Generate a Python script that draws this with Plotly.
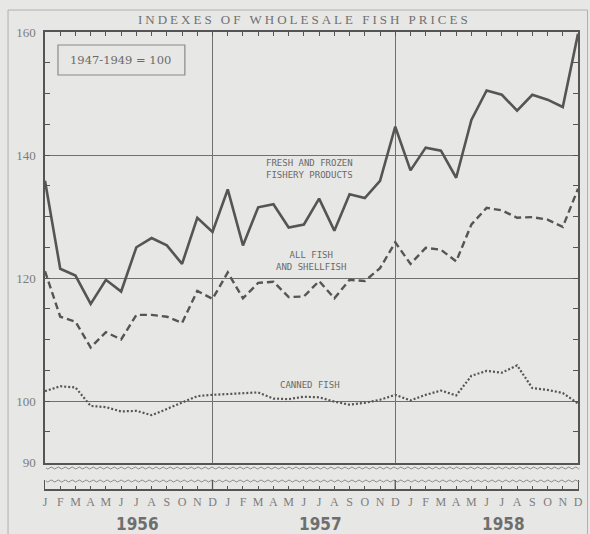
import plotly.graph_objects as go

# ---------------- data ----------------
month_letters = ["J", "F", "M", "A", "M", "J", "J", "A", "S", "O", "N", "D"]
years = ["1956", "1957", "1958"]
month_index = list(range(36))
month_labels = month_letters * 3

fresh_frozen = [135.8, 121.5, 120.4, 115.8, 119.7, 117.8, 125.0, 126.5, 125.3, 122.3, 129.8, 127.5,
                134.4, 125.3, 131.5, 132.0, 128.2, 128.7, 132.9, 127.7, 133.6, 133.0, 135.8, 144.6,
                137.5, 141.2, 140.7, 136.3, 145.7, 150.5, 149.8, 147.2, 149.8, 149.0, 147.8, 159.7]
all_fish = [121.1, 113.7, 112.9, 108.7, 111.2, 110.0, 114.0, 114.0, 113.7, 112.7, 117.9, 116.6,
            120.9, 116.7, 119.2, 119.4, 116.9, 117.0, 119.5, 116.7, 119.7, 119.5, 121.6, 125.8,
            122.3, 124.9, 124.6, 122.7, 128.7, 131.4, 131.0, 129.8, 129.9, 129.5, 128.3, 134.5]
canned_fish = [101.6, 102.4, 102.2, 99.2, 99.0, 98.3, 98.4, 97.7, 98.7, 99.7, 100.8, 101.0,
               101.1, 101.2, 101.4, 100.4, 100.3, 100.7, 100.6, 99.9, 99.4, 99.7, 100.2, 101.0,
               100.1, 101.0, 101.7, 100.9, 104.1, 104.9, 104.6, 105.8, 102.1, 101.8, 101.3, 99.6]

y_tick_vals = [90, 100, 120, 140, 160]
y_tick_text = ["90", "100", "120", "140", "160"]
year_end_months = [11, 23]

# ---------------- style ----------------
BG = "#e7e7e5"
LINE = "#555555"
GRID = "#707070"
TEXT = "#7d7d7d"
SERIF = "Liberation Serif, DejaVu Serif, serif"
MONO = "DejaVu Sans Mono, Liberation Mono, monospace"
NARROW = "Liberation Sans Narrow, DejaVu Sans Condensed, sans-serif"

W, H = 590, 534
ML, MR, MT, MB = 45, 11.5, 32, 45
plot_h = H - MT - MB
plot_w = W - ML - MR
main_bottom_px = 462.5
main_dom0 = (H - MB - main_bottom_px) / plot_h
br_top_px = 480
br_dom1 = (H - MB - br_top_px) / plot_h


def px_x(p):
    return (p - ML) / plot_w


def px_y(p):
    return (H - MB - p) / plot_h


fig = go.Figure()
fig.add_trace(go.Scatter(x=month_index, y=fresh_frozen, mode="lines",
                         line=dict(color=LINE, width=2.6), hoverinfo="skip", showlegend=False))
fig.add_trace(go.Scatter(x=month_index, y=all_fish, mode="lines",
                         line=dict(color=LINE, width=2.4, dash="7px,4px"), hoverinfo="skip", showlegend=False))
fig.add_trace(go.Scatter(x=month_index, y=canned_fish, mode="lines",
                         line=dict(color=LINE, width=2.2, dash="2px,2px"), hoverinfo="skip", showlegend=False))
# bracket axis subplot (no data)
fig.add_trace(go.Scatter(x=[], y=[], xaxis="x2", yaxis="y2", showlegend=False, hoverinfo="skip"))

shapes = []


def wavy(py, x0=46, x1=580, wl=7.0, amp=2.0):
    d = f"M{px_x(x0):.5f},{px_y(py):.5f}"
    x = x0
    s = 1
    while x < x1 - 0.01:
        xe = min(x + wl / 2, x1)
        cx = (x + xe) / 2
        d += f" Q{px_x(cx):.5f},{px_y(py + s * amp):.5f} {px_x(xe):.5f},{px_y(py):.5f}"
        x = xe
        s = -s
    return d


for py in (468, 481):
    shapes.append(dict(type="path", xref="paper", yref="paper", path=wavy(py),
                       line=dict(color="#8a8a8a", width=1)))

for m in year_end_months:
    shapes.append(dict(type="line", xref="x2", yref="y2", x0=m, x1=m, y0=0, y1=1,
                       line=dict(color=LINE, width=1.3)))

shapes.append(dict(type="rect", xref="paper", yref="paper",
                   x0=px_x(58), x1=px_x(185), y0=px_y(75), y1=px_y(45),
                   line=dict(color="#8a8a8a", width=1.2)))
shapes.append(dict(type="rect", xref="paper", yref="paper",
                   x0=px_x(8), x1=px_x(588), y0=px_y(560), y1=px_y(10),
                   line=dict(color="#b0b0b0", width=1)))

annotations = [
    dict(text='<span style="letter-spacing:3px">INDEXES OF WHOLESALE FISH PRICES</span>',
         xref="paper", yref="paper", x=px_x(305), y=px_y(20), xanchor="center", yanchor="middle",
         showarrow=False, font=dict(family=SERIF, size=13, color="#707070")),
    dict(text="1947-1949 = 100",
         xref="paper", yref="paper", x=px_x(121), y=px_y(60), xanchor="center", yanchor="middle",
         showarrow=False, font=dict(family="DejaVu Serif, serif", size=11.5, color="#6a6a6a")),
    dict(text="FRESH AND FROZEN<br>FISHERY PRODUCTS", x=17.4, y=137.7, xref="x", yref="y",
         xanchor="center", yanchor="middle",
         showarrow=False, font=dict(family=MONO, size=9, color="#6a6a6a")),
    dict(text="ALL FISH<br>AND SHELLFISH", x=17.45, y=122.7, xref="x", yref="y",
         xanchor="center", yanchor="middle",
         showarrow=False, font=dict(family=MONO, size=9, color="#6a6a6a")),
    dict(text="CANNED FISH", x=17.4, y=102.6, xref="x", yref="y",
         xanchor="center", yanchor="middle",
         showarrow=False, font=dict(family=MONO, size=9, color="#6a6a6a")),
]
for i, yr in enumerate(years):
    annotations.append(dict(text=f"<b>{yr}</b>", x=i * 12 + 5.5 + 0.6, y=px_y(524),
                            xref="x", yref="paper", xanchor="center", yanchor="middle",
                            showarrow=False,
                            font=dict(family=NARROW, size=17, color="#6e6e6e")))

fig.update_layout(
    width=W, height=H,
    margin=dict(l=ML, r=MR, t=MT, b=MB, pad=0, autoexpand=False),
    paper_bgcolor=BG, plot_bgcolor=BG,
    showlegend=False,
    xaxis=dict(domain=[0, 1], range=[0, 35], anchor="y", side="top", automargin=False,
               showline=True, linecolor=LINE, linewidth=1.5, mirror=True,
               tickmode="array", tickvals=year_end_months, showticklabels=False,
               ticks="inside", ticklen=4, tickcolor=LINE, tickwidth=1,
               showgrid=True, gridcolor=GRID, gridwidth=1, zeroline=False,
               minor=dict(tickmode="linear", tick0=0, dtick=1, ticks="inside", ticklen=4,
                          tickcolor=LINE, tickwidth=1, showgrid=False)),
    yaxis=dict(domain=[main_dom0, 1], range=[90, 160], anchor="x", automargin=False,
               showline=True, linecolor=LINE, linewidth=1.5, mirror="allticks",
               tickmode="array", tickvals=y_tick_vals, ticktext=y_tick_text,
               ticks="inside", ticklen=5, tickcolor=LINE, tickwidth=1,
               tickfont=dict(family=SERIF, size=13, color=TEXT), ticklabelstandoff=5,
               showgrid=True, gridcolor=GRID, gridwidth=1, zeroline=False,
               minor=dict(tickmode="linear", tick0=90, dtick=5, ticks="inside", ticklen=5,
                          tickcolor=LINE, tickwidth=1, showgrid=False)),
    xaxis2=dict(domain=[0, 1], range=[0, 35], anchor="y2", side="bottom", automargin=False,
                showline=True, linecolor=LINE, linewidth=1.5,
                tickmode="array", tickvals=month_index, ticktext=month_labels,
                ticks="inside", ticklen=3, tickcolor=LINE, tickwidth=1,
                tickfont=dict(family=SERIF, size=12, color=TEXT), ticklabelstandoff=1,
                showgrid=False, zeroline=False),
    yaxis2=dict(domain=[0, br_dom1], range=[0, 1], anchor="x2", automargin=False,
                showline=True, linecolor=LINE, linewidth=1.3, mirror=True,
                showticklabels=False, ticks="", showgrid=False, zeroline=False),
    shapes=shapes,
    annotations=annotations,
)

fig.write_html("out.html", config={"displayModeBar": False},
               post_script="document.body.style.margin='0px';")
